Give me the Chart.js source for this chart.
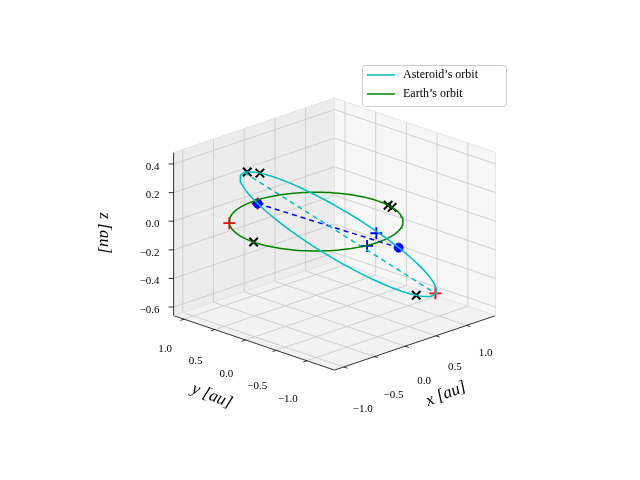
<!DOCTYPE html>
<html><head><meta charset="utf-8">
<script src="https://cdn.jsdelivr.net/npm/chart.js@4/dist/chart.umd.min.js"></script>
<style>html,body{margin:0;background:#fff}#w{width:640px;height:480px}</style>
</head><body><div id="w"><canvas id="c"></canvas></div>
<script>
// axis limits and ticks
const xLim=[-1.15,1.47], yLim=[-1.45,1.17], zLim=[-0.66,0.48];
const xTicks=[-1.0,-0.5,0.0,0.5,1.0];
const yTicks=[-1.0,-0.5,0.0,0.5,1.0];
const zTicks=[-0.6,-0.4,-0.2,0.0,0.2,0.4];
// Earth orbit (circle, radius 1 au, z=0)
const earthRadius=1.0;
// Asteroid orbit: centre and two semi-axis vectors (au)
const astCenter=[0.179,-0.179,-0.088];
const astAxisA=[0.792,-0.792,-0.413];
const astAxisB=[0.549,0.351,0.008];
// marker positions
const earthCrossAngles=[-11,-16,179];      // black x on Earth orbit (deg)
const astCrossAnoms=[165,150,-30];         // black x on asteroid orbit (anomaly deg)
const redPlusEarth=[138];                  // red + on Earth orbit
const redPlusAst=[222,0];                  // red + on asteroid orbit
const blueDotAst=[222,59];                 // blue dots on asteroid orbit
const bluePlus=[[0.21,-0.77,0],[-0.17,-1.0,0]];
const apsides=[170,0];

const OX=316,OY=221,SX=63,SY=21.5,SZ=148;
const P=(x,y,z)=>({x:OX+SX*(x-y),y:OY-SY*(x+y)-SZ*z});
function ast(Edeg){const E=Edeg*Math.PI/180,c=Math.cos(E),s=Math.sin(E);
 const v=[0,1,2].map(i=>astCenter[i]+c*astAxisA[i]+s*astAxisB[i]);return P(...v);}
function earth(d){const t=d*Math.PI/180;return P(earthRadius*Math.cos(t),earthRadius*Math.sin(t),0);}
const earthPts=[],astPts=[];
for(let d=0;d<=360;d+=3){earthPts.push(earth(d));astPts.push(ast(d));}
const blueDots=blueDotAst.map(ast);

const gridPlugin={id:'g',beforeDatasetsDraw(ch){
 const c=ch.ctx,sx=ch.scales.x,sy=ch.scales.y;
 const Q=(x,y,z)=>{const p=P(x,y,z);return [sx.getPixelForValue(p.x),sy.getPixelForValue(p.y)];};
 const poly=(pts,col)=>{c.beginPath();pts.forEach((p,i)=>{const q=Q(...p);i?c.lineTo(...q):c.moveTo(...q);});c.closePath();c.fillStyle=col;c.fill();};
 const [x0,x1]=xLim,[y0,y1]=yLim,[z0,z1]=zLim;
 c.save();
 poly([[x0,y0,z0],[x1,y0,z0],[x1,y1,z0],[x0,y1,z0]],'#f2f2f2');
 poly([[x0,y1,z0],[x1,y1,z0],[x1,y1,z1],[x0,y1,z1]],'#ececec');
 poly([[x1,y0,z0],[x1,y1,z0],[x1,y1,z1],[x1,y0,z1]],'#f6f6f6');
 const line=(a,b,col,w)=>{c.beginPath();c.moveTo(...Q(...a));c.lineTo(...Q(...b));c.strokeStyle=col;c.lineWidth=w;c.stroke();};
 const gc='#c8c8c8';
 xTicks.forEach(t=>{line([t,y0,z0],[t,y1,z0],gc,0.8);line([t,y1,z0],[t,y1,z1],gc,0.8);});
 yTicks.forEach(t=>{line([x0,t,z0],[x1,t,z0],gc,0.8);line([x1,t,z0],[x1,t,z1],gc,0.8);});
 zTicks.forEach(t=>{line([x0,y1,t],[x1,y1,t],gc,0.8);line([x1,y1,t],[x1,y0,t],gc,0.8);});
 line([x0,y0,z0],[x1,y0,z0],'#000',0.8);
 line([x0,y0,z0],[x0,y1,z0],'#000',0.8);
 line([x0,y1,z0],[x0,y1,z1],'#000',0.8);
 const ec='#e0e0e0';
 line([x0,y1,z1],[x1,y1,z1],ec,0.8);line([x1,y1,z1],[x1,y0,z1],ec,0.8);line([x1,y1,z0],[x1,y1,z1],ec,0.8);
 line([x1,y0,z0],[x1,y0,z1],ec,0.8);line([x1,y0,z0],[x1,y1,z0],ec,0.8);line([x0,y1,z0],[x1,y1,z0],ec,0.8);
 c.fillStyle='#000';c.font='11px "Liberation Serif"';c.textAlign='center';c.textBaseline='middle';
 const fmt=v=>(v<0?'\u2212':'')+Math.abs(v).toFixed(1);
 xTicks.forEach((t,i)=>{const a=Q(t,y0,z0);line([t,y0,z0],[t,y0-0.06,z0],'#000',0.8);c.fillText(fmt(t),a[0]+19,a[1]+42-i*3.5);});
 yTicks.forEach((t,i)=>{const a=Q(x0,t,z0);line([x0,t,z0],[x0-0.06,t,z0],'#000',0.8);c.fillText(fmt(t),a[0]-19,a[1]+38-i*2);});
 zTicks.forEach(t=>{const a=Q(x0,y1,t);line([x0,y1,t],[x0-0.04,y1+0.04,t],'#000',0.8);c.textAlign='right';c.fillText(fmt(t),a[0]-14,a[1]+3);c.textAlign='center';});
 c.font='italic 17px "Liberation Serif"';
 c.save();c.translate(446,394);c.rotate(-0.38);c.fillText('x [au]',0,0);c.restore();
 c.save();c.translate(212,396);c.rotate(0.38);c.fillText('y [au]',0,0);c.restore();
 c.save();c.translate(104,233);c.rotate(Math.PI/2);c.fillText('z [au]',0,0);c.restore();
 c.restore();
},afterDraw(ch){
 const c=ch.ctx;c.save();
 c.fillStyle='rgba(255,255,255,0.85)';c.strokeStyle='#ccc';c.lineWidth=1;
 c.beginPath();c.roundRect(362.5,65.5,144,41,3);c.fill();c.stroke();
 c.lineWidth=1.5;
 c.strokeStyle='#00bfbf';c.beginPath();c.moveTo(367,75);c.lineTo(395,75);c.stroke();
 c.strokeStyle='#008000';c.beginPath();c.moveTo(367,94);c.lineTo(395,94);c.stroke();
 c.fillStyle='#000';c.font='12px "Liberation Serif"';c.textBaseline='middle';
 c.fillText('Asteroid\u2019s orbit',403,75);c.fillText('Earth\u2019s orbit',403,94);
 c.restore();}};

const ln=(data,col,dash)=>({type:'scatter',data,showLine:true,borderColor:col,borderWidth:1.5,borderDash:dash||[],pointRadius:0,fill:false});
const mk=(data,style,col,r,w)=>({type:'scatter',data,showLine:false,pointStyle:style,pointRadius:r,borderColor:col,backgroundColor:col,pointBorderWidth:w||1.8});
new Chart(document.getElementById('c'),{type:'scatter',
 data:{datasets:[
  ln(astPts,'#00bfbf'),
  ln(earthPts,'#008000'),
  ln(apsides.map(ast),'#00bfbf',[5,4]),
  ln(blueDots,'#0000ff',[5,4]),
  mk(blueDots,'circle','#0000ff',4.5,1),
  mk(bluePlus.map(p=>P(...p)),'cross','#0000ff',6),
  mk(redPlusEarth.map(earth).concat(redPlusAst.map(ast)),'cross','#ff0000',6),
  mk(earthCrossAngles.map(earth).concat(astCrossAnoms.map(ast)),'crossRot','#000',6,2)
 ]},
 options:{responsive:true,maintainAspectRatio:false,animation:false,layout:{padding:0},
  plugins:{legend:{display:false},tooltip:{enabled:false}},
  scales:{x:{type:'linear',min:0,max:640,display:false},y:{type:'linear',min:0,max:480,reverse:true,display:false}}},
 plugins:[gridPlugin]});
</script></body></html>
